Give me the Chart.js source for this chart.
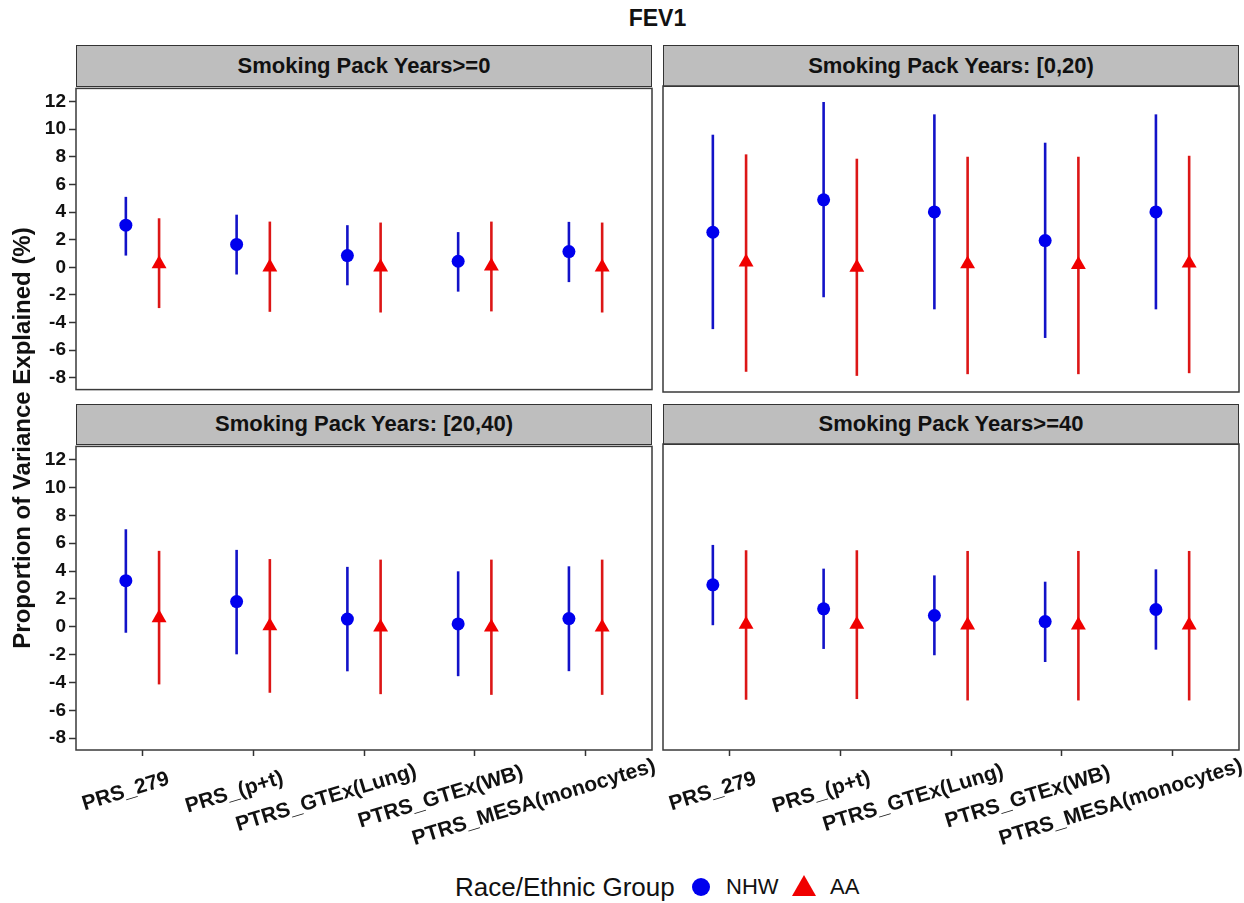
<!DOCTYPE html>
<html>
<head>
<meta charset="utf-8">
<script src="https://cdn.jsdelivr.net/npm/chart.js@4.4.0/dist/chart.umd.min.js"></script>
<style>
  body { margin: 0; background: #fff; font-family: "Liberation Sans", Arial, sans-serif; }
  #wrap { position: relative; width: 1244px; height: 903px; overflow: hidden; }
  canvas { position: absolute; }
  .strip { position: absolute; box-sizing: border-box; background: #bebebe; border: 1.5px solid #333;
           font-weight: bold; font-size: 22px; color: #111; text-align: center; }
  .xlab { position: absolute; white-space: nowrap; font-weight: bold; font-size: 21px; line-height: 1;
          color: #111; transform-origin: 0 0; }
  .txt { position: absolute; white-space: nowrap; }
</style>
</head>
<body>
<div id="wrap"></div>
<script>
// ---- data ----
const panelTitles = ["Smoking Pack Years>=0", "Smoking Pack Years: [0,20)",
                     "Smoking Pack Years: [20,40)", "Smoking Pack Years>=40"];
const scores = ["PRS_279", "PRS_(p+t)", "PTRS_GTEx(Lung)", "PTRS_GTEx(WB)", "PTRS_MESA(monocytes)"];
const yTicks = [-8, -6, -4, -2, 0, 2, 4, 6, 8, 10, 12];

// one row per panel, one value per score
const nhwEst  = [[3.05, 1.66, 0.85, 0.44, 1.14],
                 [2.53, 4.84, 3.98, 1.94, 3.98],
                 [3.31, 1.81, 0.55, 0.20, 0.59],
                 [2.92, 1.21, 0.73, 0.30, 1.16]];
const nhwLow  = [[0.85, -0.52, -1.30, -1.76, -1.07],
                 [-4.37, -2.10, -2.96, -5.00, -2.96],
                 [-0.43, -1.98, -3.20, -3.55, -3.19],
                 [0.04, -1.65, -2.10, -2.58, -1.70]];
const nhwHigh = [[5.10, 3.81, 3.05, 2.55, 3.29],
                 [9.48, 11.81, 10.93, 8.91, 10.93],
                 [7.00, 5.52, 4.30, 3.98, 4.34],
                 [5.76, 4.07, 3.59, 3.14, 4.02]];
const aaEst   = [[0.25, 0.01, 0.01, 0.08, 0.01],
                 [0.40, 0.03, 0.27, 0.22, 0.32],
                 [0.64, 0.05, -0.04, -0.04, -0.04],
                 [0.09, 0.09, 0.04, 0.04, 0.04]];
const aaLow   = [[-2.95, -3.22, -3.27, -3.19, -3.27],
                 [-7.41, -7.70, -7.58, -7.58, -7.51],
                 [-4.14, -4.74, -4.84, -4.89, -4.89],
                 [-5.27, -5.22, -5.32, -5.32, -5.32]];
const aaHigh  = [[3.55, 3.31, 3.24, 3.31, 3.24],
                 [8.08, 7.77, 7.91, 7.91, 7.98],
                 [5.45, 4.86, 4.82, 4.82, 4.82],
                 [5.38, 5.38, 5.33, 5.33, 5.33]];

// ---- layout ----
const wrap = document.getElementById("wrap");
const cols = [{ left: 76, width: 576 }, { left: 663, width: 576 }];
const rows = [{ stripTop: 45, top: 86, height: 306 }, { stripTop: 404, top: 444, height: 306 }];
const dodge = 0.15;
const blue = "#0000ee", blueBar = "#1212c8";
const red = "#f00000", redBar = "#dc1616";

function addText(txt, css) {
  const d = document.createElement("div");
  d.className = "txt";
  d.textContent = txt;
  Object.assign(d.style, css);
  wrap.appendChild(d);
  return d;
}

const errorBars = {
  id: "errorBars",
  beforeDatasetsDraw(chart) {
    const { ctx, scales: { x, y } } = chart;
    chart.data.datasets.forEach(ds => {
      ctx.save();
      ctx.strokeStyle = ds.barColor;
      ctx.lineWidth = 2.6;
      ds.data.forEach(p => {
        const px = x.getPixelForValue(p.x);
        ctx.beginPath();
        ctx.moveTo(px, y.getPixelForValue(p.lo));
        ctx.lineTo(px, y.getPixelForValue(p.hi));
        ctx.stroke();
      });
      ctx.restore();
    });
  }
};

const frame = {
  id: "frame",
  afterDraw(chart) {
    const { ctx, chartArea: a } = chart;
    ctx.save();
    ctx.strokeStyle = "#3a3a3a";
    ctx.lineWidth = 1.5;
    ctx.strokeRect(a.left, a.top, a.right - a.left, a.bottom - a.top);
    ctx.restore();
  }
};

function makePanel(idx) {
  const r = Math.floor(idx / 2), c = idx % 2;
  const col = cols[c], row = rows[r];

  // strip
  const s = document.createElement("div");
  s.className = "strip";
  s.textContent = panelTitles[idx];
  Object.assign(s.style, {
    left: col.left + "px", top: row.stripTop + "px",
    width: col.width + "px", height: (row.top - row.stripTop + 1) + "px",
    lineHeight: (row.top - row.stripTop - 2) + "px"
  });
  wrap.appendChild(s);

  const showY = c === 0, showX = r === 1;
  const xAxisH = showX ? 7 : 0;
  const cv = document.createElement("canvas");
  const cLeft = showY ? 0 : col.left - 2;
  const cW = showY ? col.left + col.width + 2 : col.width + 4;
  const cTop = row.top - 12;
  const cH = row.height + 24 + xAxisH;
  cv.style.left = cLeft + "px";
  cv.style.top = cTop + "px";
  cv.style.width = cW + "px";
  cv.style.height = cH + "px";
  cv.width = cW; cv.height = cH;
  wrap.appendChild(cv);

  const nhw = scores.map((_, i) => ({ x: i + 1 - dodge, y: nhwEst[idx][i], lo: nhwLow[idx][i], hi: nhwHigh[idx][i] }));
  const aa = scores.map((_, i) => ({ x: i + 1 + dodge, y: aaEst[idx][i], lo: aaLow[idx][i], hi: aaHigh[idx][i] }));

  const chart = new Chart(cv, {
    type: "scatter",
    data: {
      datasets: [
        { label: "NHW", data: nhw, barColor: blueBar, pointStyle: "circle", pointRadius: 6.5,
          pointHoverRadius: 6.5, backgroundColor: blue, borderWidth: 0 },
        { label: "AA", data: aa, barColor: redBar, pointStyle: "triangle", pointRadius: 8.6,
          pointHoverRadius: 8.6, backgroundColor: red, borderWidth: 0 }
      ]
    },
    options: {
      responsive: false,
      animation: false,
      layout: { autoPadding: false, padding: { top: 12, bottom: 12, left: showY ? 0 : 2, right: 2 } },
      plugins: { legend: { display: false }, tooltip: { enabled: false } },
      scales: {
        x: {
          type: "linear", min: 0.4, max: 5.6, display: showX,
          afterBuildTicks: sc => { sc.ticks = scores.map((_, i) => ({ value: i + 1 })); },
          afterFit: sc => { if (showX) sc.height = xAxisH; },
          ticks: { display: false },
          grid: { drawOnChartArea: false, drawTicks: true, tickLength: 6, tickColor: "#333", tickWidth: 1.5 },
          border: { display: false }
        },
        y: {
          min: -8.85, max: 12.95, display: showY,
          afterBuildTicks: sc => { sc.ticks = yTicks.map(v => ({ value: v })); },
          afterFit: sc => { if (showY) sc.width = col.left; },
          ticks: { color: "#111", font: { family: "Liberation Sans", size: 19, weight: "bold" }, padding: 3 },
          grid: { drawOnChartArea: false, drawTicks: true, tickLength: 7, tickColor: "#333", tickWidth: 1.5 },
          border: { display: false }
        }
      }
    },
    plugins: [errorBars, frame]
  });

  // rotated category labels under the bottom panels
  if (showX) {
    scores.forEach((name, i) => {
      const px = chart.scales.x.getPixelForValue(i + 1) + cLeft;
      const d = document.createElement("div");
      d.className = "xlab";
      d.textContent = name;
      d.style.left = px + "px";
      d.style.top = (row.top + row.height + 24) + "px";
      d.style.transform = "rotate(-17deg) translate(-73%, 0)";
      wrap.appendChild(d);
    });
  }
}

[0, 1, 2, 3].forEach(makePanel);

// title
addText("FEV1", { left: "76px", width: "1163px", top: "5px", textAlign: "center",
  fontWeight: "bold", fontSize: "23px", color: "#111" });

// y axis title
addText("Proportion of Variance Explained (%)", { left: "-228px", top: "423px", width: "500px",
  height: "30px", lineHeight: "30px", textAlign: "center", fontWeight: "bold", fontSize: "24px",
  color: "#111", transform: "rotate(-90deg)" });

// legend
addText("Race/Ethnic Group", { left: "455px", top: "872px", lineHeight: "30px", fontSize: "26px", color: "#111" });
const dot = document.createElement("div");
Object.assign(dot.style, { position: "absolute", left: "692px", top: "878px", width: "18px", height: "18px",
  borderRadius: "50%", background: blue });
wrap.appendChild(dot);
addText("NHW", { left: "726px", top: "872px", lineHeight: "30px", fontSize: "22px", color: "#111" });
const tri = document.createElement("div");
Object.assign(tri.style, { position: "absolute", left: "792px", top: "875px", width: "0", height: "0",
  borderLeft: "12.5px solid transparent", borderRight: "12.5px solid transparent",
  borderBottom: "21px solid " + red });
wrap.appendChild(tri);
addText("AA", { left: "830px", top: "872px", lineHeight: "30px", fontSize: "22px", color: "#111" });
</script>
</body>
</html>
